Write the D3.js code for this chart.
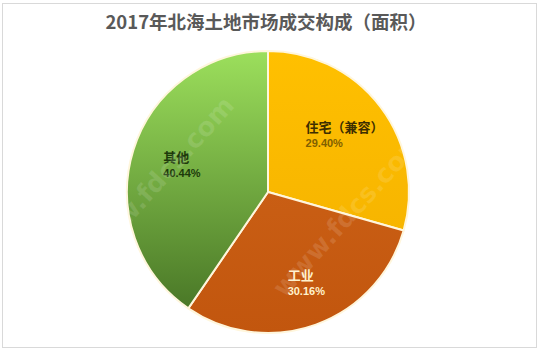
<!DOCTYPE html>
<html>
<head>
<meta charset="utf-8">
<script src="https://cdn.jsdelivr.net/npm/d3@7"></script>
<style>
  body { margin: 0; background: #fff; }
  svg { display: block; }
</style>
</head>
<body>
<div id="chart"></div>
<script>
// data
var categories = ["住宅（兼容）", "工业", "其他"];
var shares = [29.40, 30.16, 40.44];
var percentLabels = ["29.40%", "30.16%", "40.44%"];

var width = 538, height = 350;
var cx = 268, cy = 192, radius = 141;

var svg = d3.select("#chart")
  .append("svg")
  .attr("width", width)
  .attr("height", height);

// thin frame round the picture
svg.append("rect")
  .attr("x", 2.5).attr("y", 3.5)
  .attr("width", width - 4).attr("height", height - 6)
  .attr("fill", "#fff")
  .attr("stroke", "#d9d9d9");

var defs = svg.append("defs");
// gradient over each slice's own box, top to bottom
function vGrad(id, top, bottom) {
  var g = defs.append("linearGradient")
    .attr("id", id)
    .attr("x1", 0).attr("y1", 0)
    .attr("x2", 0).attr("y2", 1);
  g.append("stop").attr("offset", "0%").attr("stop-color", top);
  g.append("stop").attr("offset", "100%").attr("stop-color", bottom);
}
vGrad("gOrange", "#FFC000", "#F7B500");
vGrad("gBrown", "#C95E14", "#C2560E");
vGrad("gGreen", "#9CDF5C", "#4A7827");

var color = d3.scaleOrdinal()
  .domain(categories)
  .range(["url(#gOrange)", "url(#gBrown)", "url(#gGreen)"]);

var nameColor = d3.scaleOrdinal()
  .domain(categories)
  .range(["#3d2e00", "#fff2cc", "#1d3a0b"]);
var pctColor = d3.scaleOrdinal()
  .domain(categories)
  .range(["#7f6000", "#fff2cc", "#1d3a0b"]);

var data = categories.map(function (c, i) {
  return { name: c, value: shares[i], label: percentLabels[i] };
});

var pie = d3.pie()
  .sort(null)
  .value(function (d) { return d.value; });

var arc = d3.arc().innerRadius(0).outerRadius(radius);
var labelArc = d3.arc().innerRadius(96).outerRadius(96);

var g = svg.append("g")
  .attr("transform", "translate(" + cx + "," + cy + ")");

g.selectAll("path.slice")
  .data(pie(data))
  .enter()
  .append("path")
  .attr("class", "slice")
  .attr("d", arc)
  .attr("fill", function (d) { return color(d.data.name); })
  .attr("stroke", "#fff6dc")
  .attr("stroke-width", 2);

// title
svg.append("text")
  .attr("x", 266)
  .attr("y", 29)
  .attr("text-anchor", "middle")
  .attr("font-family", "'Noto Sans CJK SC', 'Liberation Sans', sans-serif")
  .attr("font-size", 18.5)
  .attr("font-weight", "bold")
  .attr("fill", "#595959")
  .text("2017年北海土地市场成交构成（面积）");

// labels, left aligned block around the centroid
var labels = g.selectAll("g.lbl")
  .data(pie(data))
  .enter()
  .append("g")
  .attr("class", "lbl")
  .attr("transform", function (d) {
    var c = labelArc.centroid(d);
    return "translate(" + c[0] + "," + c[1] + ")";
  });

labels.append("text")
  .attr("class", "nm")
  .attr("y", -2)
  .attr("font-family", "'Noto Sans CJK SC', sans-serif")
  .attr("font-size", 13)
  .attr("font-weight", "bold")
  .attr("fill", function (d) { return nameColor(d.data.name); })
  .text(function (d) { return d.data.name; });

labels.append("text")
  .attr("class", "pc")
  .attr("y", 13)
  .attr("font-family", "'Liberation Sans', 'DejaVu Sans', sans-serif")
  .attr("font-size", 11)
  .attr("font-weight", "bold")
  .attr("fill", function (d) { return pctColor(d.data.name); })
  .text(function (d) { return d.data.label; });

labels.each(function () {
  var grp = d3.select(this);
  var w = grp.select("text.nm").node().getComputedTextLength();
  grp.selectAll("text").attr("x", -w / 2);
});

// faint site watermarks
var marks = [
  { x: 165, y: 185, t: "www.fdcs.com" },
  { x: 355, y: 220, t: "www.fdcs.com" }
];
svg.selectAll("text.wm")
  .data(marks)
  .enter()
  .append("text")
  .attr("class", "wm")
  .attr("transform", function (d) { return "translate(" + d.x + "," + d.y + ") rotate(-48)"; })
  .attr("text-anchor", "middle")
  .attr("font-family", "'DejaVu Sans', sans-serif")
  .attr("font-size", 26)
  .attr("font-weight", "bold")
  .attr("fill", "#ffffff")
  .attr("fill-opacity", 0.12)
  .text(function (d) { return d.t; });
</script>
</body>
</html>
